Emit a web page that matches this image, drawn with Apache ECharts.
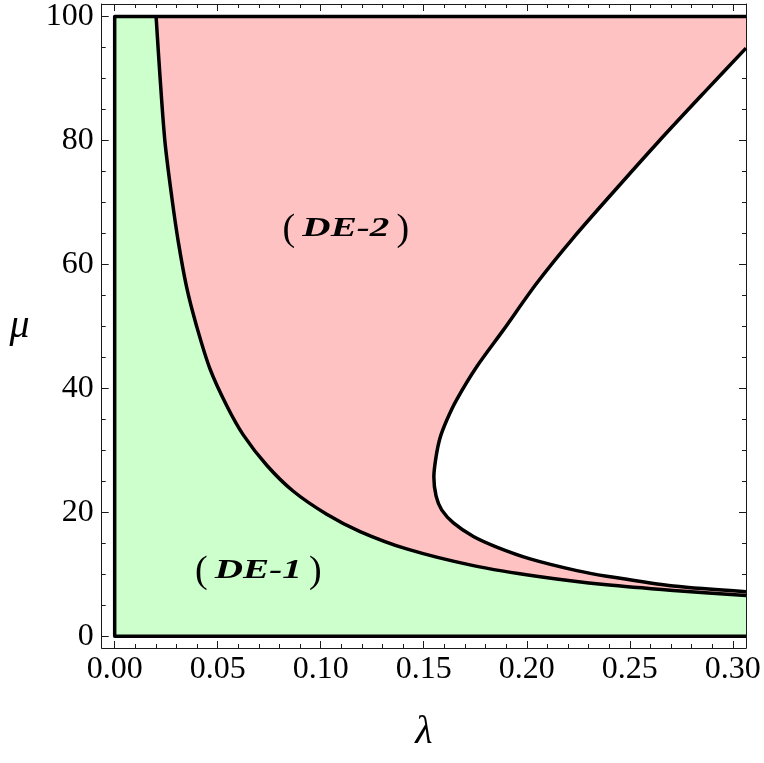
<!DOCTYPE html>
<html><head><meta charset="utf-8">
<script src="https://cdn.jsdelivr.net/npm/echarts@6/dist/echarts.min.js"></script>
<style>html,body{margin:0;padding:0;background:#fff}#c{width:764px;height:763px}</style>
</head><body><div id="c"></div>
<script>
// ---- axis ticks ----
const xMajor = [0, 0.05, 0.10, 0.15, 0.20, 0.25, 0.30];
const xMinor = [0.01,0.02,0.03,0.04,0.06,0.07,0.08,0.09,0.11,0.12,0.13,0.14,0.16,0.17,0.18,0.19,0.21,0.22,0.23,0.24,0.26,0.27,0.28,0.29];
const yMajor = [0, 20, 40, 60, 80, 100];
const yMinor = [5,10,15,25,30,35,45,50,55,65,70,75,85,90,95];
const xRange = [-0.0063, 0.3064];
const yRange = [-1.89, 102.02];

// ---- boundary between (DE-1) and (DE-2) ----
const lowerLambda = [0.0201,0.0220,0.0244,0.0277,0.0309,0.0350,0.0398,0.0463,0.0544,0.0624,0.0738,0.0867,0.1029,0.1191,0.1417,0.1741,0.2065,0.2388,0.2712,0.3064];
const lowerMu     = [100,   90.3,  79.8,  70.9,  63.6,  56.2,  50.0,  43.1,  37.2,  32.5,  27.6,  23.4,  19.7,  16.9,  14.1,  11.4,  9.6,   8.3,   7.4,   6.6];

// ---- C-shaped boundary of the unshaded region ----
const cLambda = [0.3064,0.2857,0.2639,0.2453,0.2226,0.2049,0.1886,0.1757,0.1660,0.1612,0.1579,0.1560,0.1549,0.1560,0.1587,0.1644,0.1741,0.1854,0.2016,0.2243,0.2388,0.2712,0.3064];
const cMu     = [94.9,  87.6,  79.8,  72.9,  64.3,  57.0,  49.4,  43.5,  38.2,  34.9,  32.0,  29.0,  25.7,  22.6,  20.4,  18.3,  16.1,  14.4,  12.5,  10.6,  9.7,   8.1,   7.2];

// ---- outer box of the regions ----
const boxLambda = [0.3064, 0, 0, 0.3064];
const boxMu     = [0, 0, 100, 100];

// ---- region labels ----
const annoLambda = [0.1122, 0.0697];
const annoMu     = [65.7, 10.5];
const annoText   = ['DE-2', 'DE-1'];

const zip = (a, b) => a.map((v, i) => [v, b[i]]);
const lowerPts = zip(lowerLambda, lowerMu);
const cPts = zip(cLambda, cMu);
const boxPts = zip(boxLambda, boxMu);
const xEnd = boxLambda[0];

const greenPoly = [[0, 0], [0, 100]].concat(lowerPts, [[xEnd, 0]]);
const pinkPoly = lowerPts.concat(cPts.slice().reverse(), [[xEnd, 100]]);

const SERIF = '"Liberation Serif", "Times New Roman", serif';
const FRAME = '#1a1a1a';

function polySeries(poly, color) {
  return {
    type: 'custom', coordinateSystem: 'cartesian2d', silent: true, z: 1,
    data: [[0, 0]],
    renderItem: (params, api) => ({
      type: 'polygon',
      shape: { points: poly.map(p => api.coord(p)) },
      style: { fill: color, stroke: null }
    })
  };
}
function lineSeries(pts, smooth) {
  return {
    type: 'line', data: pts, showSymbol: false, symbol: 'none', silent: true, z: 3,
    smooth: smooth || false,
    lineStyle: { color: '#000', width: 3.5, join: 'round' }, animation: false
  };
}

function xAx(pos, major, labels) {
  return {
    type: 'value', min: xRange[0], max: xRange[1], position: pos,
    splitLine: { show: false },
    axisLine: { show: major, onZero: false, lineStyle: { color: FRAME, width: 1 } },
    axisTick: { show: true, inside: true, length: major ? 7 : 4, customValues: major ? xMajor : xMinor, lineStyle: { color: FRAME, width: 1 } },
    axisLabel: labels ? { show: true, customValues: xMajor, formatter: v => v.toFixed(2), fontFamily: SERIF, fontSize: 32, color: '#000', margin: 6 } : { show: false },
    name: labels ? 'λ' : '', nameLocation: 'middle', nameGap: 64,
    nameTextStyle: { fontFamily: SERIF, fontStyle: 'italic', fontSize: 40, color: '#000' }
  };
}
function yAx(pos, major, labels) {
  return {
    type: 'value', min: yRange[0], max: yRange[1], position: pos,
    splitLine: { show: false },
    axisLine: { show: major, onZero: false, lineStyle: { color: FRAME, width: 1 } },
    axisTick: { show: true, inside: true, length: major ? 7 : 4, customValues: major ? yMajor : yMinor, lineStyle: { color: FRAME, width: 1 } },
    axisLabel: labels ? { show: true, customValues: yMajor, formatter: v => String(v), fontFamily: SERIF, fontSize: 32, color: '#000', margin: 8 } : { show: false },
    name: labels ? 'μ' : '', nameLocation: 'middle', nameGap: 72, nameRotate: 0,
    nameTextStyle: { fontFamily: SERIF, fontStyle: 'italic', fontSize: 40, color: '#000' }
  };
}

const chart = echarts.init(document.getElementById('c'), null, { renderer: 'canvas' });
chart.setOption({
  animation: false,
  backgroundColor: '#fff',
  grid: { left: 101.7, right: 18, top: 4, bottom: 115, containLabel: false },
  xAxis: [xAx('bottom', true, true), xAx('bottom', false, false), xAx('top', true, false), xAx('top', false, false)],
  yAxis: [yAx('left', true, true), yAx('left', false, false), yAx('right', true, false), yAx('right', false, false)],
  series: [
    polySeries(greenPoly, '#ccffcc'),
    polySeries(pinkPoly, '#ffc2c2'),
    lineSeries(boxPts, false),
    lineSeries(lowerPts, 0.3),
    lineSeries(cPts, 0.3),
    {
      type: 'custom', coordinateSystem: 'cartesian2d', silent: true, z: 5,
      data: annoLambda.map((v, i) => [v, annoMu[i], i]),
      renderItem: (params, api) => {
        const p = api.coord([api.value(0), api.value(1)]);
        const t = annoText[api.value(2)];
        return {
          type: 'group', x: p[0], y: p[1],
          children: [
            { type: 'text', x: -57, y: 1, style: { text: '(', fontFamily: SERIF, fontSize: 38, fill: '#000', align: 'center', verticalAlign: 'middle' } },
            { type: 'text', x: 0, y: 0, scaleX: 1.45, style: { text: t, fontFamily: SERIF, fontSize: 27, fontWeight: 'bold', fontStyle: 'italic', fill: '#000', align: 'center', verticalAlign: 'middle' } },
            { type: 'text', x: 57, y: 1, style: { text: ')', fontFamily: SERIF, fontSize: 38, fill: '#000', align: 'center', verticalAlign: 'middle' } }
          ]
        };
      }
    }
  ]
});
</script>
</body></html>
